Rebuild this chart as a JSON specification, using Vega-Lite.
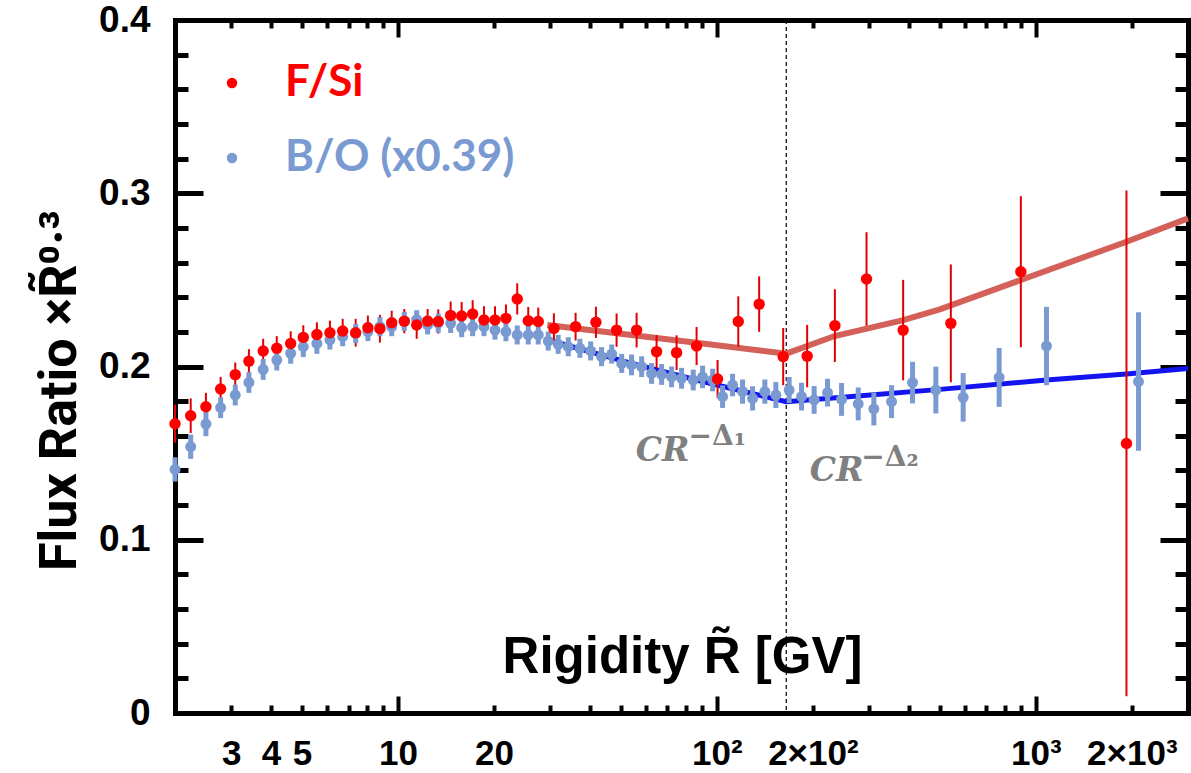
{
  "$schema": "https://vega.github.io/schema/vega-lite/v6.json",
  "width": 1013,
  "height": 693,
  "autosize": {"type": "none"},
  "padding": {"left": 175, "top": 20, "right": 3, "bottom": 60},
  "background": "white",
  "config": {"view": {"stroke": null}},
  "datasets": {
    "pts": [
      {"s": "F/Si", "R": 2.0, "v": 0.167, "e": 0.011},
      {"s": "F/Si", "R": 2.24, "v": 0.1716, "e": 0.010},
      {"s": "F/Si", "R": 2.50, "v": 0.1768, "e": 0.008},
      {"s": "F/Si", "R": 2.78, "v": 0.187, "e": 0.007},
      {"s": "F/Si", "R": 3.09, "v": 0.1953, "e": 0.007},
      {"s": "F/Si", "R": 3.41, "v": 0.203, "e": 0.007},
      {"s": "F/Si", "R": 3.78, "v": 0.209, "e": 0.007},
      {"s": "F/Si", "R": 4.17, "v": 0.2105, "e": 0.007},
      {"s": "F/Si", "R": 4.61, "v": 0.2133, "e": 0.007},
      {"s": "F/Si", "R": 5.05, "v": 0.2168, "e": 0.007},
      {"s": "F/Si", "R": 5.57, "v": 0.2185, "e": 0.007},
      {"s": "F/Si", "R": 6.12, "v": 0.2195, "e": 0.007},
      {"s": "F/Si", "R": 6.71, "v": 0.2205, "e": 0.007},
      {"s": "F/Si", "R": 7.37, "v": 0.2195, "e": 0.008},
      {"s": "F/Si", "R": 8.05, "v": 0.2224, "e": 0.007},
      {"s": "F/Si", "R": 8.78, "v": 0.2218, "e": 0.008},
      {"s": "F/Si", "R": 9.56, "v": 0.2252, "e": 0.007},
      {"s": "F/Si", "R": 10.47, "v": 0.2262, "e": 0.007},
      {"s": "F/Si", "R": 11.45, "v": 0.224, "e": 0.008},
      {"s": "F/Si", "R": 12.39, "v": 0.2262, "e": 0.007},
      {"s": "F/Si", "R": 13.38, "v": 0.226, "e": 0.007},
      {"s": "F/Si", "R": 14.63, "v": 0.2295, "e": 0.008},
      {"s": "F/Si", "R": 15.84, "v": 0.2292, "e": 0.008},
      {"s": "F/Si", "R": 17.15, "v": 0.2303, "e": 0.008},
      {"s": "F/Si", "R": 18.61, "v": 0.2268, "e": 0.008},
      {"s": "F/Si", "R": 20.15, "v": 0.2268, "e": 0.008},
      {"s": "F/Si", "R": 21.81, "v": 0.2278, "e": 0.008},
      {"s": "F/Si", "R": 23.66, "v": 0.239, "e": 0.009},
      {"s": "F/Si", "R": 25.62, "v": 0.2264, "e": 0.008},
      {"s": "F/Si", "R": 27.54, "v": 0.226, "e": 0.008},
      {"s": "F/Si", "R": 30.83, "v": 0.222, "e": 0.0087},
      {"s": "F/Si", "R": 36.06, "v": 0.223, "e": 0.008},
      {"s": "F/Si", "R": 41.76, "v": 0.2255, "e": 0.009},
      {"s": "F/Si", "R": 48.48, "v": 0.221, "e": 0.0096},
      {"s": "F/Si", "R": 56.02, "v": 0.221, "e": 0.010},
      {"s": "F/Si", "R": 64.71, "v": 0.2086, "e": 0.0096},
      {"s": "F/Si", "R": 74.76, "v": 0.208, "e": 0.010},
      {"s": "F/Si", "R": 86.37, "v": 0.2118, "e": 0.011},
      {"s": "F/Si", "R": 100.5, "v": 0.1928, "e": 0.011},
      {"s": "F/Si", "R": 116.7, "v": 0.226, "e": 0.0145},
      {"s": "F/Si", "R": 135.7, "v": 0.236, "e": 0.016},
      {"s": "F/Si", "R": 161.4, "v": 0.2057, "e": 0.0165},
      {"s": "F/Si", "R": 191.9, "v": 0.206, "e": 0.018},
      {"s": "F/Si", "R": 234.4, "v": 0.2236, "e": 0.021},
      {"s": "F/Si", "R": 294.6, "v": 0.2505, "e": 0.027},
      {"s": "F/Si", "R": 383.7, "v": 0.221, "e": 0.029},
      {"s": "F/Si", "R": 541.4, "v": 0.2249, "e": 0.034},
      {"s": "F/Si", "R": 897.4, "v": 0.2547, "e": 0.0436},
      {"s": "F/Si", "R": 1924, "v": 0.1556, "e": 0.146},
      {"s": "B/O (x0.39)", "R": 2.0, "v": 0.1406, "e": 0.007},
      {"s": "B/O (x0.39)", "R": 2.24, "v": 0.1537, "e": 0.007},
      {"s": "B/O (x0.39)", "R": 2.50, "v": 0.1668, "e": 0.007},
      {"s": "B/O (x0.39)", "R": 2.78, "v": 0.1762, "e": 0.006},
      {"s": "B/O (x0.39)", "R": 3.09, "v": 0.1835, "e": 0.006},
      {"s": "B/O (x0.39)", "R": 3.41, "v": 0.1908, "e": 0.006},
      {"s": "B/O (x0.39)", "R": 3.78, "v": 0.1983, "e": 0.006},
      {"s": "B/O (x0.39)", "R": 4.17, "v": 0.2037, "e": 0.006},
      {"s": "B/O (x0.39)", "R": 4.61, "v": 0.2076, "e": 0.006},
      {"s": "B/O (x0.39)", "R": 5.05, "v": 0.2114, "e": 0.006},
      {"s": "B/O (x0.39)", "R": 5.57, "v": 0.2133, "e": 0.006},
      {"s": "B/O (x0.39)", "R": 6.12, "v": 0.2153, "e": 0.0055},
      {"s": "B/O (x0.39)", "R": 6.71, "v": 0.2172, "e": 0.0055},
      {"s": "B/O (x0.39)", "R": 7.37, "v": 0.219, "e": 0.0055},
      {"s": "B/O (x0.39)", "R": 8.05, "v": 0.2202, "e": 0.0055},
      {"s": "B/O (x0.39)", "R": 8.78, "v": 0.223, "e": 0.0055},
      {"s": "B/O (x0.39)", "R": 9.56, "v": 0.223, "e": 0.0055},
      {"s": "B/O (x0.39)", "R": 10.47, "v": 0.226, "e": 0.0055},
      {"s": "B/O (x0.39)", "R": 11.45, "v": 0.227, "e": 0.0055},
      {"s": "B/O (x0.39)", "R": 12.39, "v": 0.224, "e": 0.0055},
      {"s": "B/O (x0.39)", "R": 13.38, "v": 0.225, "e": 0.0055},
      {"s": "B/O (x0.39)", "R": 14.63, "v": 0.2249, "e": 0.0055},
      {"s": "B/O (x0.39)", "R": 15.84, "v": 0.2224, "e": 0.0055},
      {"s": "B/O (x0.39)", "R": 17.15, "v": 0.223, "e": 0.0055},
      {"s": "B/O (x0.39)", "R": 18.61, "v": 0.223, "e": 0.0055},
      {"s": "B/O (x0.39)", "R": 20.15, "v": 0.221, "e": 0.0055},
      {"s": "B/O (x0.39)", "R": 21.81, "v": 0.2201, "e": 0.0055},
      {"s": "B/O (x0.39)", "R": 23.66, "v": 0.2182, "e": 0.0055},
      {"s": "B/O (x0.39)", "R": 25.62, "v": 0.2182, "e": 0.0055},
      {"s": "B/O (x0.39)", "R": 27.54, "v": 0.2182, "e": 0.0055},
      {"s": "B/O (x0.39)", "R": 29.59, "v": 0.2147, "e": 0.0055},
      {"s": "B/O (x0.39)", "R": 31.8, "v": 0.2128, "e": 0.0055},
      {"s": "B/O (x0.39)", "R": 34.2, "v": 0.2114, "e": 0.0055},
      {"s": "B/O (x0.39)", "R": 37.2, "v": 0.2105, "e": 0.0055},
      {"s": "B/O (x0.39)", "R": 40.2, "v": 0.209, "e": 0.0055},
      {"s": "B/O (x0.39)", "R": 43.5, "v": 0.2057, "e": 0.0055},
      {"s": "B/O (x0.39)", "R": 46.8, "v": 0.2072, "e": 0.0055},
      {"s": "B/O (x0.39)", "R": 50.3, "v": 0.2018, "e": 0.0055},
      {"s": "B/O (x0.39)", "R": 54.0, "v": 0.2009, "e": 0.006},
      {"s": "B/O (x0.39)", "R": 58.1, "v": 0.1999, "e": 0.006},
      {"s": "B/O (x0.39)", "R": 62.4, "v": 0.196, "e": 0.006},
      {"s": "B/O (x0.39)", "R": 67.1, "v": 0.1954, "e": 0.006},
      {"s": "B/O (x0.39)", "R": 72.1, "v": 0.194, "e": 0.006},
      {"s": "B/O (x0.39)", "R": 77.5, "v": 0.1932, "e": 0.006},
      {"s": "B/O (x0.39)", "R": 84.3, "v": 0.1922, "e": 0.006},
      {"s": "B/O (x0.39)", "R": 90.2, "v": 0.194, "e": 0.0065},
      {"s": "B/O (x0.39)", "R": 97.0, "v": 0.1922, "e": 0.0065},
      {"s": "B/O (x0.39)", "R": 104.2, "v": 0.1826, "e": 0.0065},
      {"s": "B/O (x0.39)", "R": 112.0, "v": 0.1893, "e": 0.0065},
      {"s": "B/O (x0.39)", "R": 120.4, "v": 0.1855, "e": 0.007},
      {"s": "B/O (x0.39)", "R": 129.4, "v": 0.1816, "e": 0.007},
      {"s": "B/O (x0.39)", "R": 141.4, "v": 0.1855, "e": 0.007},
      {"s": "B/O (x0.39)", "R": 153.1, "v": 0.1835, "e": 0.0075},
      {"s": "B/O (x0.39)", "R": 168.5, "v": 0.1864, "e": 0.0075},
      {"s": "B/O (x0.39)", "R": 184.3, "v": 0.1826, "e": 0.008},
      {"s": "B/O (x0.39)", "R": 201.8, "v": 0.1807, "e": 0.008},
      {"s": "B/O (x0.39)", "R": 222.3, "v": 0.1849, "e": 0.008},
      {"s": "B/O (x0.39)", "R": 246.0, "v": 0.181, "e": 0.0095},
      {"s": "B/O (x0.39)", "R": 277.4, "v": 0.1784, "e": 0.0095},
      {"s": "B/O (x0.39)", "R": 310.6, "v": 0.1755, "e": 0.0095},
      {"s": "B/O (x0.39)", "R": 352.9, "v": 0.1797, "e": 0.0095},
      {"s": "B/O (x0.39)", "R": 410.7, "v": 0.1907, "e": 0.012},
      {"s": "B/O (x0.39)", "R": 485.9, "v": 0.1864, "e": 0.0135},
      {"s": "B/O (x0.39)", "R": 591.8, "v": 0.1822, "e": 0.014},
      {"s": "B/O (x0.39)", "R": 767.4, "v": 0.1937, "e": 0.017},
      {"s": "B/O (x0.39)", "R": 1080, "v": 0.2118, "e": 0.0226},
      {"s": "B/O (x0.39)", "R": 2099, "v": 0.1913, "e": 0.040}
    ],
    "fitF": [
      {"R": 29.4, "v": 0.224},
      {"R": 86.3, "v": 0.2137},
      {"R": 165, "v": 0.2074},
      {"R": 234, "v": 0.2176},
      {"R": 384, "v": 0.2268},
      {"R": 500, "v": 0.233},
      {"R": 897, "v": 0.2499},
      {"R": 1924, "v": 0.272},
      {"R": 3000, "v": 0.2855}
    ],
    "fitB": [
      {"R": 29.6, "v": 0.2153},
      {"R": 54, "v": 0.2018},
      {"R": 86.3, "v": 0.1922},
      {"R": 165, "v": 0.1797},
      {"R": 277, "v": 0.183},
      {"R": 500, "v": 0.1868},
      {"R": 1080, "v": 0.1922},
      {"R": 1924, "v": 0.1957},
      {"R": 3000, "v": 0.1989}
    ],
    "notesBig": [
      {"R": 55.7, "v": 0.1455, "t": "CR"},
      {"R": 195.6, "v": 0.1339, "t": "CR"}
    ],
    "notesSmall": [
      {"R": 81.5, "v": 0.1545, "t": "−Δ₁"},
      {"R": 283.5, "v": 0.1424, "t": "−Δ₂"}
    ],
    "brk": [{"R": 165}]
  },
  "resolve": {"axis": {"x": "independent", "y": "independent"}},
  "layer": [
    {
      "data": {"name": "brk"},
      "mark": {"type": "rule", "color": "black", "strokeWidth": 1.2, "strokeDash": [4, 3]},
      "encoding": {
        "x": {"field": "R", "type": "quantitative", "scale": {"type": "log", "domain": [2, 3000], "nice": false}, "axis": null}
      }
    },
    {
      "data": {"name": "fitF"},
      "mark": {"type": "line", "color": "#d4605a", "strokeWidth": 6},
      "encoding": {
        "x": {"field": "R", "type": "quantitative", "scale": {"type": "log", "domain": [2, 3000], "nice": false},
          "axis": {"orient": "top", "values": [3,4,5,6,7,8,9,10,20,30,40,50,60,70,80,90,100,200,300,400,500,600,700,800,900,1000,2000],
            "tickSize": {"condition": {"test": "datum.value == 10 || datum.value == 100 || datum.value == 1000", "value": -17}, "value": -8},
            "tickWidth": 4, "tickColor": "black", "labels": false, "domainColor": "black", "domainWidth": 5, "domainCap": "square", "title": null, "grid": false}},
        "y": {"field": "v", "type": "quantitative", "scale": {"domain": [0, 0.4], "nice": false},
          "axis": {"orient": "right", "values": [0,0.02,0.04,0.06,0.08,0.1,0.12,0.14,0.16,0.18,0.2,0.22,0.24,0.26,0.28,0.3,0.32,0.34,0.36,0.38,0.4],
            "tickSize": {"condition": {"test": "abs(datum.value*10 - round(datum.value*10)) < 0.001", "value": -28}, "value": -13},
            "tickWidth": 5, "tickColor": "black", "labels": false, "domainColor": "black", "domainWidth": 5, "domainCap": "square", "title": null, "grid": false}}
      }
    },
    {
      "data": {"name": "fitB"},
      "mark": {"type": "line", "color": "#1414f0", "strokeWidth": 5},
      "encoding": {
        "x": {"field": "R", "type": "quantitative", "scale": {"type": "log", "domain": [2, 3000], "nice": false}, "axis": null},
        "y": {"field": "v", "type": "quantitative", "scale": {"domain": [0, 0.4], "nice": false}, "axis": null}
      }
    },
    {
      "data": {"name": "pts"},
      "transform": [{"filter": "datum.s == 'F/Si'"}],
      "mark": {"type": "errorbar", "color": "#e00000", "thickness": 2},
      "encoding": {
        "x": {"field": "R", "type": "quantitative", "scale": {"type": "log", "domain": [2, 3000], "nice": false}, "axis": null},
        "y": {"field": "v", "type": "quantitative", "scale": {"domain": [0, 0.4], "nice": false}, "axis": null},
        "yError": {"field": "e"}
      }
    },
    {
      "data": {"name": "pts"},
      "transform": [{"filter": "datum.s != 'F/Si'"}],
      "mark": {"type": "errorbar", "color": "#7a9ad2", "thickness": 5},
      "encoding": {
        "x": {"field": "R", "type": "quantitative", "scale": {"type": "log", "domain": [2, 3000], "nice": false}, "axis": null},
        "y": {"field": "v", "type": "quantitative", "scale": {"domain": [0, 0.4], "nice": false}, "axis": null},
        "yError": {"field": "e"}
      }
    },
    {
      "data": {"name": "pts"},
      "transform": [{"filter": "datum.s != 'F/Si'"}],
      "mark": {"type": "circle", "size": 120, "opacity": 1},
      "encoding": {
        "x": {"field": "R", "type": "quantitative", "scale": {"type": "log", "domain": [2, 3000], "nice": false}, "axis": null},
        "y": {"field": "v", "type": "quantitative", "scale": {"domain": [0, 0.4], "nice": false}, "axis": null},
        "fill": {"field": "s", "type": "nominal",
          "scale": {"domain": ["B/O (x0.39)"], "range": ["#7a9ad2"]},
          "legend": {"orient": "none", "legendX": 35, "legendY": 116, "title": null,
            "symbolType": "circle", "symbolSize": 110, "symbolStrokeWidth": 0, "symbolOpacity": 1,
            "labelFont": "Lato", "labelFontWeight": "bold", "labelFontSize": 44, "labelOffset": 31, "labelLimit": 400,
            "labelColor": "#7a9ad2", "padding": 0}}
      }
    },
    {
      "data": {"name": "pts"},
      "transform": [{"filter": "datum.s == 'F/Si'"}],
      "mark": {"type": "circle", "size": 130, "opacity": 1},
      "encoding": {
        "x": {"field": "R", "type": "quantitative", "scale": {"type": "log", "domain": [2, 3000], "nice": false},
          "axis": {"orient": "bottom", "values": [3,4,5,6,7,8,9,10,20,30,40,50,60,70,80,90,100,200,300,400,500,600,700,800,900,1000,2000],
            "tickSize": {"condition": {"test": "datum.value == 10 || datum.value == 100 || datum.value == 1000", "value": -17}, "value": -8},
            "labelPadding": {"condition": {"test": "datum.value == 10 || datum.value == 100 || datum.value == 1000", "value": 75}, "value": 66},
            "tickWidth": 4, "tickColor": "black", "domainColor": "black", "domainWidth": 5, "domainCap": "square", "grid": false,
            "labelExpr": "datum.value == 100 ? '10²' : datum.value == 200 ? '2×10²' : datum.value == 1000 ? '10³' : datum.value == 2000 ? '2×10³' : datum.value == 3 ? '3' : datum.value == 4 ? '4' : datum.value == 5 ? '5' : datum.value == 10 ? '10' : datum.value == 20 ? '20' : ''",
            "labelFont": "Liberation Sans", "labelFontWeight": "bold", "labelFontSize": 35, "labelColor": "black",
            "labelBaseline": "bottom", "labelOverlap": false, "labelFlush": false, "labelBound": false,
            "title": "Rigidity  R̃ [GV]", "titleFont": "Liberation Sans", "titleFontWeight": "bold", "titleFontSize": 51, "titleColor": "black",
            "titleBaseline": "alphabetic", "titleAlign": "center", "titleX": 507, "titleY": -41}},
        "y": {"field": "v", "type": "quantitative", "scale": {"domain": [0, 0.4], "nice": false},
          "axis": {"orient": "left", "values": [0,0.02,0.04,0.06,0.08,0.1,0.12,0.14,0.16,0.18,0.2,0.22,0.24,0.26,0.28,0.3,0.32,0.34,0.36,0.38,0.4],
            "tickSize": {"condition": {"test": "abs(datum.value*10 - round(datum.value*10)) < 0.001", "value": -28}, "value": -13},
            "labelPadding": {"condition": {"test": "abs(datum.value*10 - round(datum.value*10)) < 0.001", "value": 53}, "value": 38},
            "tickWidth": 5, "tickColor": "black", "domainColor": "black", "domainWidth": 5, "domainCap": "square", "grid": false,
            "labelExpr": "abs(datum.value*10 - round(datum.value*10)) < 0.001 ? (datum.value == 0 ? '0' : format(datum.value, '.1f')) : ''",
            "labelFont": "Liberation Sans", "labelFontWeight": "bold", "labelFontSize": 37, "labelColor": "black",
            "labelBaseline": "middle", "labelAlign": "right", "labelOverlap": false, "labelFlush": false, "labelBound": false,
            "title": "Flux Ratio ×R̃⁰·³", "titleFont": "Roboto", "titleFontWeight": "bold", "titleFontSize": 52, "titleColor": "black",
            "titleAngle": -90, "titleBaseline": "alphabetic", "titleAlign": "center", "titleX": -100, "titleY": 370}},
        "color": {"field": "s", "type": "nominal",
          "scale": {"domain": ["F/Si"], "range": ["#ff0000"]},
          "legend": {"orient": "none", "legendX": 35, "legendY": 41, "title": null,
            "symbolType": "circle", "symbolSize": 110, "symbolStrokeWidth": 0, "symbolOpacity": 1,
            "labelFont": "Lato", "labelFontWeight": "bold", "labelFontSize": 44, "labelOffset": 31, "labelLimit": 400,
            "labelColor": "#ff0000", "padding": 0}}
      }
    },
    {
      "data": {"name": "notesBig"},
      "mark": {"type": "text", "font": "DejaVu Serif", "fontStyle": "italic", "fontWeight": "bold", "fontSize": 33, "color": "#808080", "align": "left", "baseline": "alphabetic"},
      "encoding": {
        "x": {"field": "R", "type": "quantitative", "scale": {"type": "log", "domain": [2, 3000], "nice": false}, "axis": null},
        "y": {"field": "v", "type": "quantitative", "scale": {"domain": [0, 0.4], "nice": false}, "axis": null},
        "text": {"field": "t"}
      }
    },
    {
      "data": {"name": "notesSmall"},
      "mark": {"type": "text", "font": "DejaVu Serif", "fontWeight": "bold", "fontSize": 28, "color": "#808080", "align": "left", "baseline": "alphabetic"},
      "encoding": {
        "x": {"field": "R", "type": "quantitative", "scale": {"type": "log", "domain": [2, 3000], "nice": false}, "axis": null},
        "y": {"field": "v", "type": "quantitative", "scale": {"domain": [0, 0.4], "nice": false}, "axis": null},
        "text": {"field": "t"}
      }
    }
  ]
}
